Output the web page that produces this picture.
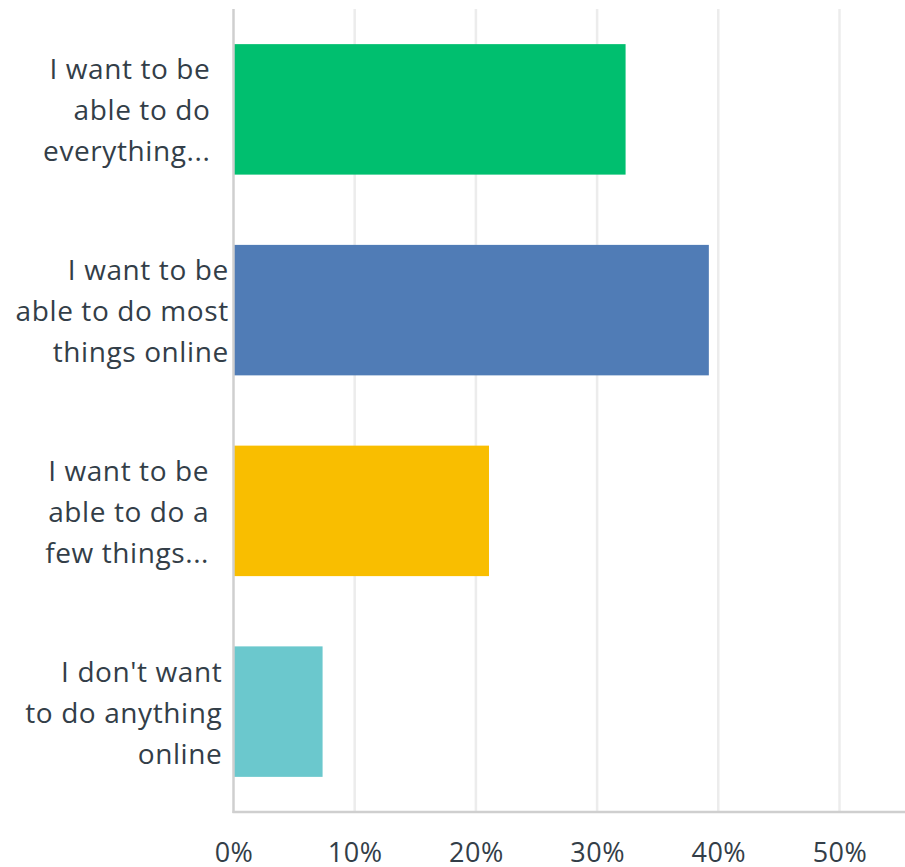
<!DOCTYPE html>
<html>
<head>
<meta charset="utf-8">
<script src="https://cdn.jsdelivr.net/npm/d3@7"></script>
<style>
	body { margin: 0; background: #fff; }
	text { font-family: "Open Sans", "Noto Sans", sans-serif; fill: #333e48; }
</style>
</head>
<body>
<div id="chart"></div>
<script>
/* global d3 */

// Data
const categories = [
	"I want to be able to do everything...",
	"I want to be able to do most things online",
	"I want to be able to do a few things...",
	"I don't want to do anything online",
];
const labelLines = [
	["I want to be", "able to do", "everything..."],
	["I want to be", "able to do most", "things online"],
	["I want to be", "able to do a", "few things..."],
	["I don't want", "to do anything", "online"],
];
const values = [32.35, 39.22, 21.08, 7.35];
const tickValues = [0, 10, 20, 30, 40, 50];
const palette = ["#00bf6f", "#507cb6", "#f9be00", "#6bc8cd"];

const width = 905;
const height = 867;
const margin = { top: 9, right: 0, bottom: 55, left: 233.5 };

const x = d3
	.scaleLinear()
	.domain([0, 50])
	.range([margin.left, 839.5]);

const y = d3
	.scaleBand()
	.domain(categories)
	.range([margin.top, height - margin.bottom])
	.paddingInner(0.35)
	.paddingOuter(0.175);

const svg = d3
	.select("#chart")
	.append("svg")
	.attr("width", width)
	.attr("height", height);

const baseY = height - margin.bottom;

// Gridlines
svg
	.append("g")
	.selectAll("line")
	.data(tickValues.slice(1))
	.join("line")
	.attr("x1", (d) => x(d))
	.attr("x2", (d) => x(d))
	.attr("y1", margin.top)
	.attr("y2", baseY)
	.attr("stroke", "#ececec")
	.attr("stroke-width", 2.5);

// Bars
svg
	.append("g")
	.selectAll("rect")
	.data(values)
	.join("rect")
	.attr("x", x(0))
	.attr("y", (d, i) => y(categories[i]))
	.attr("width", (d) => x(d) - x(0))
	.attr("height", y.bandwidth())
	.attr("fill", (d, i) => palette[i]);

// Axis lines
svg
	.append("line")
	.attr("x1", x(0))
	.attr("x2", x(0))
	.attr("y1", margin.top)
	.attr("y2", baseY + 1)
	.attr("stroke", "#cfcfcf")
	.attr("stroke-width", 2.5);

svg
	.append("line")
	.attr("x1", x(0) - 1)
	.attr("x2", width)
	.attr("y1", baseY)
	.attr("y2", baseY)
	.attr("stroke", "#cfcfcf")
	.attr("stroke-width", 2.5);

// Tick labels
const xAxis = d3
	.axisBottom(x)
	.tickValues(tickValues)
	.tickFormat((d) => `${d}%`)
	.tickSize(0)
	.tickPadding(0);

const gx = svg
	.append("g")
	.attr("transform", `translate(0,${height - 5})`)
	.call(xAxis);
gx.select(".domain").remove();
gx.selectAll("text")
	.attr("dy", null)
	.attr("y", 0)
	.style("font-family", null)
	.attr("font-size", 27)
	.attr("letter-spacing", 0.5)
	.attr("fill", "#333e48");

// Category labels
const lineHeight = 41;
const gLabels = svg
	.append("g")
	.attr("font-size", 28)
	.attr("letter-spacing", 0.6)
	.attr("text-anchor", "end");

categories.forEach((c, i) => {
	const cy = y(c) + y.bandwidth() / 2;
	const lines = labelLines[i];
	const t = gLabels.append("text");
	lines.forEach((ln, j) => {
		t.append("tspan")
			.attr("y", cy + 11 + (j - (lines.length - 1) / 2) * lineHeight)
			.text(ln);
	});
	let w = 0;
	t.selectAll("tspan").each(function () {
		w = Math.max(w, this.getComputedTextLength());
	});
	const right = x(0) - 90 + 0.4 * w;
	t.selectAll("tspan").attr("x", right);
});
</script>
</body>
</html>
